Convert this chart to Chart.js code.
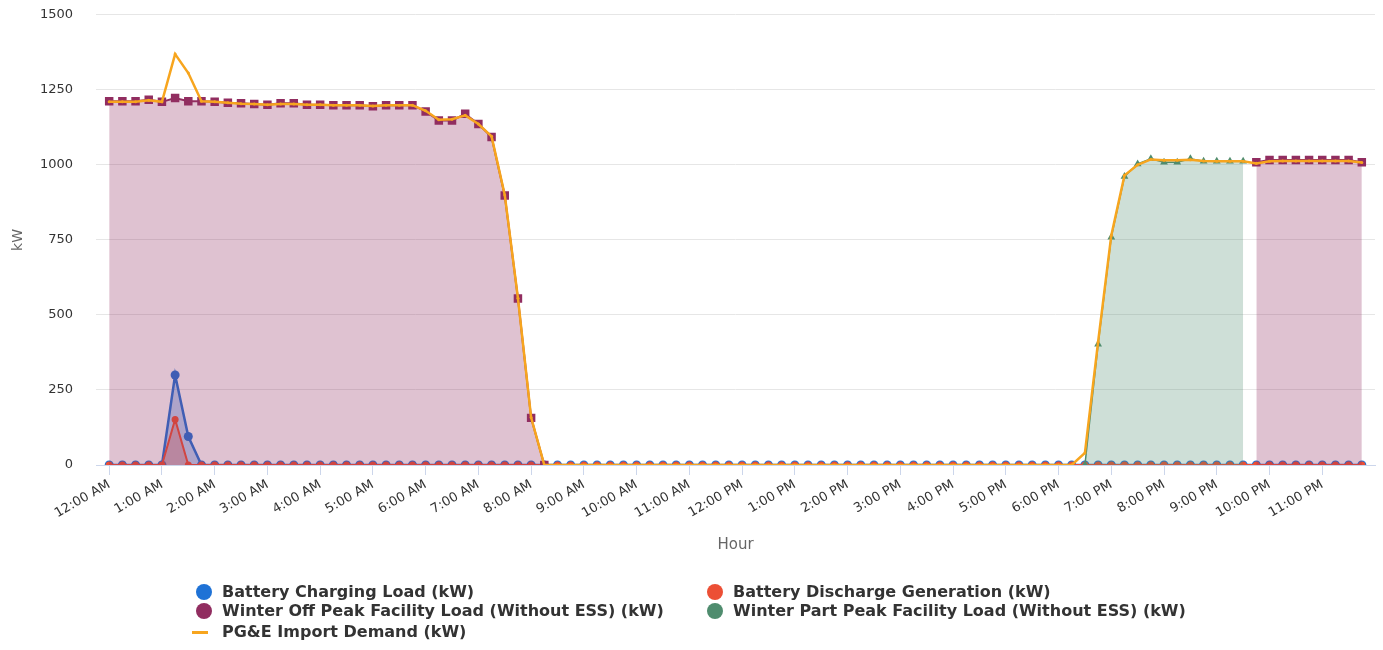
<!DOCTYPE html>
<html>
<head>
<meta charset="utf-8">
<title>Load profile</title>
<script src="https://cdn.jsdelivr.net/npm/chart.js@4/dist/chart.umd.min.js"></script>
<style>
  html, body { margin: 0; padding: 0; background: #fff; overflow: hidden; }
  #wrap { position: absolute; left: 0; top: -16px; width: 1383px; height: 581px; }
  #legend { position: absolute; left: 0; top: 0; width: 1383px; height: 650px; pointer-events: none;
            font: bold 16px "DejaVu Sans", sans-serif; color: #333; }
  .lg-item { position: absolute; white-space: nowrap; line-height: 18px; }
  .lg-mark { position: absolute; }
</style>
</head>
<body>
<div id="wrap"><canvas id="chart"></canvas></div>
<div id="legend"></div>
<script>
/* 15-minute load profile: battery charge/discharge, facility load by TOU period, grid import */

const hourLabels = [
  '12:00 AM', '1:00 AM', '2:00 AM', '3:00 AM', '4:00 AM', '5:00 AM',
  '6:00 AM', '7:00 AM', '8:00 AM', '9:00 AM', '10:00 AM', '11:00 AM',
  '12:00 PM', '1:00 PM', '2:00 PM', '3:00 PM', '4:00 PM', '5:00 PM',
  '6:00 PM', '7:00 PM', '8:00 PM', '9:00 PM', '10:00 PM', '11:00 PM',
];

// quarter-hour slot index, 0 = 12:00 AM ... 95 = 11:45 PM
const slots = Array.from({ length: 96 }, (_, i) => i);

const chargingLoad = [
  0, 0, 0, 0, 0, 300, 95, 0,
  0, 0, 0, 0, 0, 0, 0, 0,
  0, 0, 0, 0, 0, 0, 0, 0,
  0, 0, 0, 0, 0, 0, 0, 0,
  0, 0, 0, 0, 0, 0, 0, 0,
  0, 0, 0, 0, 0, 0, 0, 0,
  0, 0, 0, 0, 0, 0, 0, 0,
  0, 0, 0, 0, 0, 0, 0, 0,
  0, 0, 0, 0, 0, 0, 0, 0,
  0, 0, 0, 0, 0, 0, 0, 0,
  0, 0, 0, 0, 0, 0, 0, 0,
  0, 0, 0, 0, 0, 0, 0, 0,
];

const dischargeGen = [
  0, 0, 0, 0, 0, 152, 0, 0,
  0, 0, 0, 0, 0, 0, 0, 0,
  0, 0, 0, 0, 0, 0, 0, 0,
  0, 0, 0, 0, 0, 0, 0, 0,
  0, 0, 0, 0, 0, 0, 0, 0,
  0, 0, 0, 0, 0, 0, 0, 0,
  0, 0, 0, 0, 0, 0, 0, 0,
  0, 0, 0, 0, 0, 0, 0, 0,
  0, 0, 0, 0, 0, 0, 0, 0,
  0, 0, 0, 0, 0, 0, 0, 0,
  0, 0, 0, 0, 0, 0, 0, 0,
  0, 0, 0, 0, 0, 0, 0, 0,
];

const offPeakLoad = [
  1212, 1212, 1212, 1217, 1210, 1223, 1212, 1212,
  1210, 1207, 1205, 1203, 1200, 1205, 1205, 1200,
  1200, 1199, 1199, 1199, 1195, 1199, 1199, 1199,
  1178, 1148, 1148, 1170, 1136, 1093, 898, 555,
  157, 0, null, null, null, null, null, null,
  null, null, null, null, null, null, null, null,
  null, null, null, null, null, null, null, null,
  null, null, null, null, null, null, null, null,
  null, null, null, null, null, null, null, null,
  null, null, null, null, null, null, null, null,
  null, null, null, null, null, null, null, 1009,
  1016, 1016, 1016, 1016, 1016, 1016, 1016, 1009,
];

const partPeakLoad = [
  null, null, null, null, null, null, null, null,
  null, null, null, null, null, null, null, null,
  null, null, null, null, null, null, null, null,
  null, null, null, null, null, null, null, null,
  null, null, null, null, null, null, null, null,
  null, null, null, null, null, null, null, null,
  null, null, null, null, null, null, null, null,
  null, null, null, null, null, null, null, null,
  null, null, null, null, null, null, null, null,
  null, null, 0, 402, 759, 961, 1003, 1020,
  1009, 1009, 1020, 1012, 1012, 1012, 1012, null,
  null, null, null, null, null, null, null, null,
];

const importDemand = [
  1210, 1210, 1210, 1215, 1210, 1369, 1306, 1212,
  1210, 1207, 1204, 1203, 1200, 1203, 1203, 1200,
  1200, 1199, 1199, 1199, 1196, 1199, 1199, 1199,
  1180, 1150, 1152, 1165, 1136, 1095, 900, 556,
  158, 0, 0, 0, 0, 0, 0, 0,
  0, 0, 0, 0, 0, 0, 0, 0,
  0, 0, 0, 0, 0, 0, 0, 0,
  0, 0, 0, 0, 0, 0, 0, 0,
  0, 0, 0, 0, 0, 0, 0, 0,
  0, 0, 40, 410, 765, 965, 1000, 1018,
  1015, 1015, 1017, 1013, 1012, 1012, 1012, 1005,
  1012, 1013, 1013, 1013, 1013, 1013, 1013, 1008,
];

const FONT = '"DejaVu Sans", Verdana, sans-serif';
const TEXT = '#333333';
const AXIS_TITLE = '#666666';
const GRID = '#e6e6e6';
const AXIS_LINE = '#ccd6eb';

const BLUE = '#1f72d6';
const RED = '#ec4f35';
const PURPLE = '#912d60';
const GREEN = '#4f8c6e';
const ORANGE = '#f7a51e';

Chart.defaults.font.family = FONT;

const datasets = [
  {
    label: 'Battery Charging Load (kW)', data: chargingLoad,
    borderColor: BLUE, backgroundColor: 'rgba(31,114,214,0.3)', fill: 'origin',
    borderWidth: 2.5, pointRadius: 4.5, pointBackgroundColor: BLUE, pointBorderWidth: 0,
    order: 4, legendMark: 'dot',
  },
  {
    label: 'Battery Discharge Generation (kW)', data: dischargeGen,
    borderColor: RED, backgroundColor: 'rgba(236,79,53,0.3)', fill: 'origin',
    borderWidth: 2, pointRadius: 3.5, pointBackgroundColor: RED, pointBorderWidth: 0,
    order: 3, legendMark: 'dot',
  },
  {
    label: 'Winter Off Peak Facility Load (Without ESS) (kW)', data: offPeakLoad,
    borderColor: PURPLE, backgroundColor: 'rgba(145,45,96,0.29)', fill: 'origin',
    borderWidth: 2, pointRadius: 6, pointStyle: 'rect', pointBackgroundColor: PURPLE, pointBorderWidth: 0,
    order: 2, legendMark: 'dot',
  },
  {
    label: 'Winter Part Peak Facility Load (Without ESS) (kW)', data: partPeakLoad,
    borderColor: GREEN, backgroundColor: 'rgba(79,140,110,0.28)', fill: 'origin',
    borderWidth: 1.5, pointRadius: 4.5, pointStyle: 'triangle', pointBackgroundColor: GREEN, pointBorderWidth: 0,
    order: 1, legendMark: 'dot',
  },
  {
    label: 'PG&E Import Demand (kW)', data: importDemand,
    borderColor: ORANGE, backgroundColor: ORANGE, fill: false,
    borderWidth: 2.5, pointRadius: 1.5, pointBackgroundColor: ORANGE, pointBorderWidth: 0,
    order: 0, legendMark: 'line',
  },
];

new Chart(document.getElementById('chart'), {
  type: 'line',
  data: { labels: slots, datasets },
  options: {
    responsive: true,
    maintainAspectRatio: false,
    animation: false,
    spanGaps: false,
    elements: { line: { tension: 0 } },
    layout: { padding: { top: 14, right: 8, left: 0, bottom: 0 } },
    plugins: { legend: { display: false }, tooltip: { enabled: false } },
    scales: {
      x: {
        type: 'linear', min: -1, max: 96,
        afterBuildTicks: (s) => { s.ticks = hourLabels.map((_, h) => ({ value: h * 4 })); },
        afterFit: (s) => { s.height = 100; },
        ticks: {
          autoSkip: false, minRotation: 30, maxRotation: 30, padding: 2,
          color: TEXT, font: { size: 13 },
          callback: (v) => hourLabels[v / 4],
        },
        grid: { drawOnChartArea: false, drawTicks: true, tickLength: 10, color: AXIS_LINE },
        border: { color: AXIS_LINE, width: 1 },
        title: { display: true, text: 'Hour', color: AXIS_TITLE, font: { size: 15 }, padding: { top: 0, bottom: 11 } },
      },
      y: {
        min: 0, max: 1500,
        afterFit: (s) => { s.width = 96; },
        ticks: { stepSize: 250, padding: 23, color: TEXT, font: { size: 13 }, callback: (v) => String(v) },
        grid: { color: GRID, drawTicks: false },
        border: { display: false },
        title: { display: true, text: 'kW', color: AXIS_TITLE, font: { size: 14 }, padding: { top: 10, bottom: 0 } },
      },
    },
  },
});

// legend: two columns, built from the dataset labels/colours
const legendSlots = [
  { x: 196, y: 592 }, { x: 707, y: 592 },
  { x: 196, y: 611 }, { x: 707, y: 611 },
  { x: 196, y: 632 },
];
const legendEl = document.getElementById('legend');
datasets.forEach((ds, i) => {
  const pos = legendSlots[i];
  const mark = document.createElement('div');
  mark.className = 'lg-mark';
  if (ds.legendMark === 'line') {
    Object.assign(mark.style, { left: (pos.x - 4) + 'px', top: (pos.y - 1) + 'px', width: '16px', height: '3px', background: ds.borderColor });
  } else {
    Object.assign(mark.style, { left: pos.x + 'px', top: (pos.y - 8) + 'px', width: '16px', height: '16px', borderRadius: '50%', background: ds.borderColor });
  }
  legendEl.appendChild(mark);
  const txt = document.createElement('div');
  txt.className = 'lg-item';
  txt.textContent = ds.label;
  Object.assign(txt.style, { left: (pos.x + 26) + 'px', top: (pos.y - 9) + 'px' });
  legendEl.appendChild(txt);
});
</script>
</body>
</html>
